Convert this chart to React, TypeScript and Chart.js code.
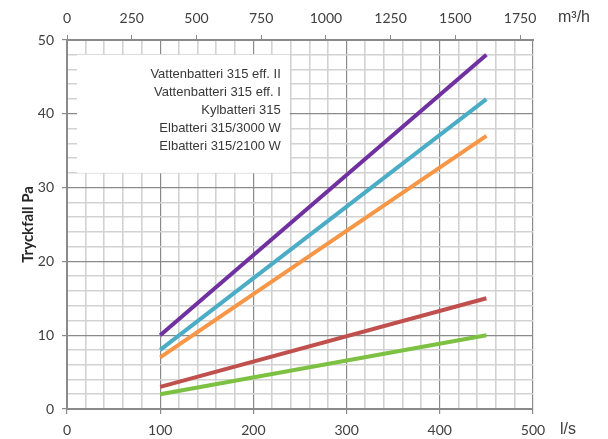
import React, { useEffect, useRef } from 'react';
import { Chart, registerables } from 'chart.js';
Chart.register(...registerables);

const flowLs = [100, 450];
const vattenEffII = [10, 48];
const vattenEffI = [8, 42];
const kylbatteri = [7, 37];
const el3000 = [3, 15];
const el2100 = [2, 10];
const seriesNames = [
  'Vattenbatteri 315 eff. II',
  'Vattenbatteri 315 eff. I',
  'Kylbatteri 315',
  'Elbatteri 315/3000 W',
  'Elbatteri 315/2100 W',
];
const seriesColors = ['#7030A0', '#4BACC6', '#F79646', '#C0504D', '#7DC142'];
const topTicks = [0, 250, 500, 750, 1000, 1250, 1500, 1750];

const tickFont = { family: 'Lato, "Open Sans", sans-serif', size: 14 };
const MAJOR = '#8a8a8a';
const MINOR = '#d2d2d2';

const overlay = {
  id: 'overlay',
  beforeDatasetsDraw(chart: any) {
    const { ctx, scales } = chart;
    const x = scales.x, y = scales.y;
    const x0 = x.getPixelForValue(10.7);
    const x1 = x.getPixelForValue(239);
    const y0 = y.getPixelForValue(48);
    const y1 = y.getPixelForValue(32);
    ctx.save();
    ctx.fillStyle = '#ffffff';
    ctx.fillRect(x0, y0, x1 - x0, y1 - y0);
    ctx.font = '13px "Liberation Sans", Arial, sans-serif';
    ctx.fillStyle = '#383838';
    ctx.textAlign = 'right';
    ctx.textBaseline = 'middle';
    seriesNames.forEach((n, i) => ctx.fillText(n, x1 - 9, y0 + 20 + i * 17.8));
    ctx.restore();
  },
  afterDraw(chart: any) {
    const { ctx } = chart;
    ctx.save();
    ctx.font = '16px "Liberation Sans", Arial, sans-serif';
    ctx.fillStyle = '#404040';
    ctx.textAlign = 'left';
    ctx.textBaseline = 'middle';
    ctx.fillText('m³/h', 558, 18);
    ctx.fillText('l/s', 560, 430);
    ctx.restore();
  },
};

export default function App() {
  const ref = useRef<HTMLCanvasElement>(null);
  useEffect(() => {
    const datasets = [vattenEffII, vattenEffI, kylbatteri, el3000, el2100].map((vals, i) => ({
      label: seriesNames[i],
      data: flowLs.map((f, j) => ({ x: f, y: vals[j] })),
      borderColor: seriesColors[i],
      backgroundColor: seriesColors[i],
      borderWidth: 4,
      pointRadius: 0,
      xAxisID: 'x',
      yAxisID: 'y',
    }));
    const chart = new Chart(ref.current!, {
      type: 'line',
      data: { datasets },
      plugins: [overlay],
      options: {
        animation: false,
        responsive: false,
        maintainAspectRatio: false,
        layout: { padding: { left: 0, right: 75, top: 0, bottom: 0 } },
        plugins: { legend: { display: false }, tooltip: { enabled: false } },
        scales: {
          x: {
            type: 'linear',
            position: 'bottom',
            min: 0,
            max: 500,
            afterFit: (s: any) => { s.height = 30; },
            ticks: {
              stepSize: 20,
              autoSkip: false,
              maxRotation: 0,
              padding: 8,
              color: '#404040',
              font: tickFont,
              callback: (v: any) => (Number(v) % 100 === 0 ? String(v) : ''),
            },
            grid: {
              color: (c: any) => (c.tick && c.tick.value % 100 === 0 ? MAJOR : MINOR),
              lineWidth: (c: any) => (c.tick && c.tick.value % 100 === 0 ? 1.2 : 1.6),
              tickColor: (c: any) => (c.tick && c.tick.value % 100 === 0 ? MAJOR : 'rgba(0,0,0,0)'),
              tickLength: 5,
            },
            border: { color: MAJOR, width: 2 },
          },
          x2: {
            type: 'linear',
            position: 'top',
            min: 0,
            max: 1800,
            afterFit: (s: any) => { s.height = 40; },
            afterBuildTicks: (s: any) => { s.ticks = topTicks.map((v) => ({ value: v })); },
            ticks: {
              autoSkip: false,
              maxRotation: 0,
              padding: 8,
              color: '#404040',
              font: tickFont,
              callback: (v: any) => String(v),
            },
            grid: { drawOnChartArea: false, color: MAJOR, tickLength: 5 },
            border: { color: MAJOR, width: 2 },
          },
          y: {
            type: 'linear',
            position: 'left',
            min: 0,
            max: 50,
            afterFit: (s: any) => { s.width = 67; },
            ticks: {
              stepSize: 2,
              autoSkip: false,
              padding: 8,
              color: '#404040',
              font: tickFont,
              callback: (v: any) => (Number(v) % 10 === 0 ? String(v) : ''),
            },
            grid: {
              color: (c: any) => (c.tick && c.tick.value % 10 === 0 ? MAJOR : MINOR),
              lineWidth: (c: any) => (c.tick && c.tick.value % 10 === 0 ? 1.2 : 1.6),
              tickColor: (c: any) => (c.tick && c.tick.value % 10 === 0 ? MAJOR : 'rgba(0,0,0,0)'),
              tickLength: 5,
            },
            border: { color: MAJOR, width: 2 },
            title: {
              display: true,
              text: 'Tryckfall Pa',
              color: '#262626',
              font: { family: 'Lato, "Open Sans", sans-serif', size: 15, weight: 'bold' },
              padding: { top: 19, bottom: 0 },
            },
          },
        },
      },
    });
    return () => chart.destroy();
  }, []);
  return (
    <div style={{ position: 'absolute', left: 0, top: 0, width: 608, height: 439, background: '#fff' }}>
      <canvas ref={ref} width={608} height={439} style={{ width: 608, height: 439 }} />
    </div>
  );
}
